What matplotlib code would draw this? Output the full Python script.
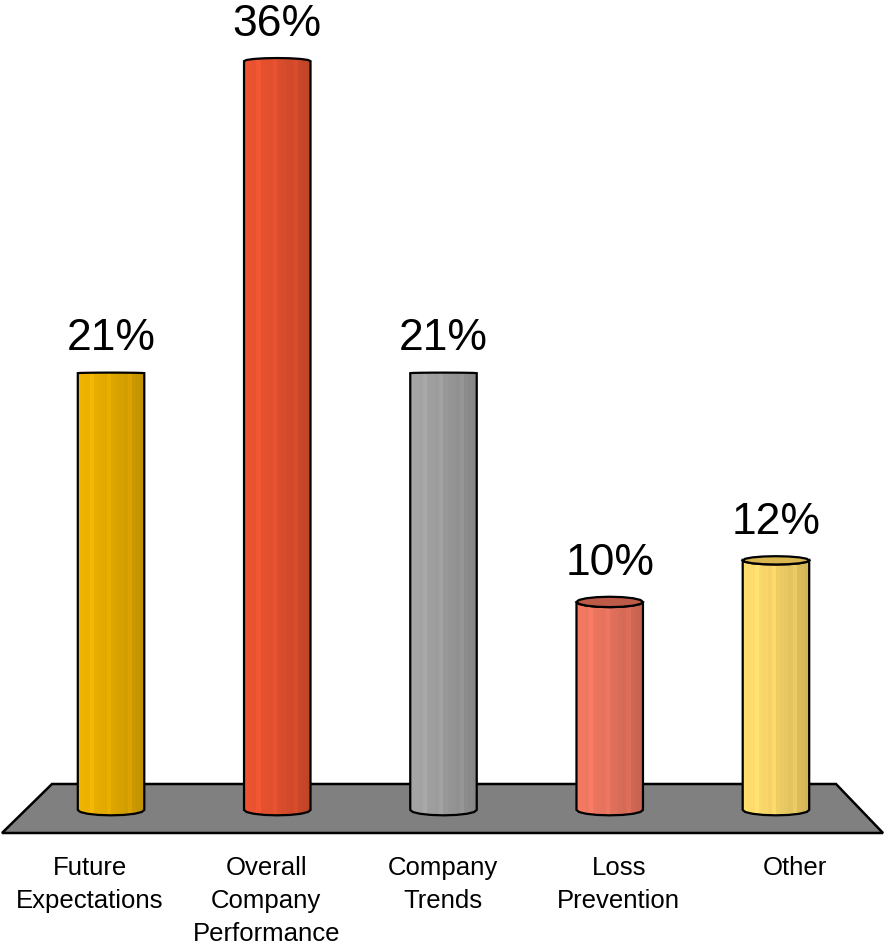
import numpy as np
import matplotlib.pyplot as plt
from matplotlib.patches import Polygon, Rectangle
from matplotlib.colors import to_rgb
from matplotlib.transforms import blended_transform_factory

# survey shares per category
categories = ["Future\nExpectations", "Overall\nCompany\nPerformance",
              "Company\nTrends", "Loss\nPrevention", "Other"]
values = [21, 36, 21, 10, 12]
body_colors = ["#E8AE00", "#E6512F", "#A0A0A0", "#EC7660", "#FBD86A"]
top_colors = ["#C99600", "#C4452A", "#888888", "#BE5A48", "#D9B650"]

plt.rcParams['font.family'] = ['Liberation Sans', 'DejaVu Sans']


def ellipse_arc(xc, yc, hw, b, start, stop, n=9):
    t = np.linspace(start, stop, n)
    return np.column_stack([xc + hw * np.cos(t), yc + b * np.sin(t)])


def draw_cylinder(ax, xc, value, body, top, hw=0.2, b_bot=0.26, eye=20):
    b_top = float(np.clip((eye - value) * 0.025, -0.15, 0.3))
    # outline of the visible body: left side, bottom front arc, right side, top arc
    bottom = ellipse_arc(xc, 0, hw, b_bot, np.pi, 2 * np.pi)
    if b_top >= 0:
        upper = ellipse_arc(xc, value, hw, b_top, 2 * np.pi, np.pi)
    else:
        upper = ellipse_arc(xc, value, hw, -b_top, 0, np.pi)
    outline = np.vstack([bottom, upper])
    body_patch = Polygon(outline, closed=True, facecolor='none',
                         edgecolor='none', zorder=3)
    ax.add_patch(body_patch)

    # vertical shading strips, lighter on the left, darker on the right
    n = 16
    edges = np.linspace(xc - hw, xc + hw, n + 1)
    base = np.array(to_rgb(body))
    for i in range(n):
        t = (i + 0.5) / n
        f = 1.03 - 0.2 * t ** 1.4
        if i in (3, 7, 12):
            f += 0.05
        col = np.clip(base * f, 0, 1)
        r = Rectangle((edges[i], -b_bot - 0.1), edges[i + 1] - edges[i] + 0.002,
                      value + b_bot + 1.0, facecolor=col, edgecolor='none',
                      zorder=3)
        r.set_clip_path(body_patch)
        ax.add_patch(r)

    ax.add_patch(Polygon(outline, closed=True, facecolor='none',
                         edgecolor='black', linewidth=1.6, zorder=4))
    if b_top > 0.02:
        face = np.vstack([ellipse_arc(xc, value, hw, b_top, 0, np.pi),
                          ellipse_arc(xc, value, hw, b_top, np.pi, 2 * np.pi)])
        ax.add_patch(Polygon(face, closed=True, facecolor=top,
                             edgecolor='black', linewidth=1.6, zorder=5))
    return value + abs(b_top)


fig = plt.figure(figsize=(8.84, 9.47), dpi=100)
ax = fig.add_axes([0, 0, 1, 1])
ax.set_xlim(-0.668, 4.65)
ax.set_ylim(-6.59, 38.94)
ax.axis('off')

# grey floor under the columns
floor_px = [(2, 833), (52, 784), (836, 784), (883, 833)]
floor = [(x / 884, 1 - y / 947) for x, y in floor_px]
ax.add_patch(Polygon(floor, closed=True, transform=ax.transAxes,
                     facecolor='#808080', edgecolor='black', linewidth=1.8,
                     zorder=1))

# category labels sit under equal slices of the floor's front edge
front_left, front_right = floor[0][0], floor[3][0]
slot = (front_right - front_left) / len(categories)
label_tf = blended_transform_factory(ax.transAxes, ax.transData)

x = np.arange(len(values))
for xi, v, bc, tc, cat in zip(x, values, body_colors, top_colors, categories):
    top_y = draw_cylinder(ax, xi, v, bc, tc)
    ax.annotate(f"{v}%", xy=(xi, top_y), xytext=(0, 16),
                textcoords='offset points', ha='center', va='baseline',
                fontsize=32, zorder=6)
    ax.text(front_left + (xi + 0.5) * slot, -2.21, cat, transform=label_tf,
            ha='center', va='top', fontsize=18.5,
            multialignment='center', linespacing=1.47)

fig.savefig("out.png", dpi=100)
